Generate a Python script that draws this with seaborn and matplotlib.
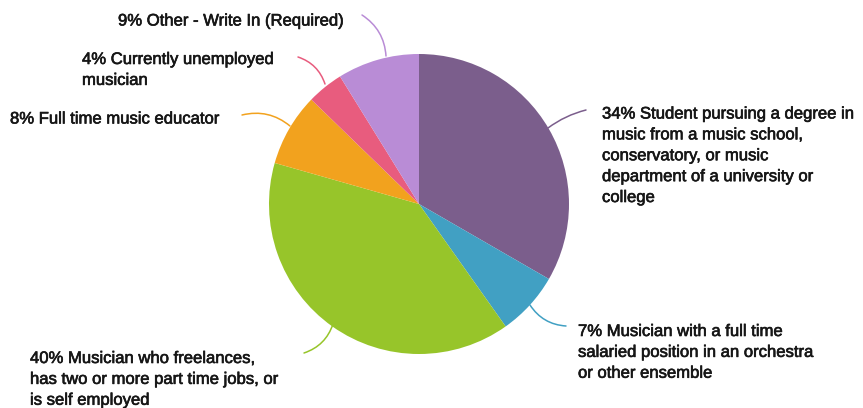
import matplotlib
matplotlib.use("Agg")
import matplotlib.pyplot as plt
import matplotlib.patheffects as pe
import seaborn as sns

sns.set_theme(style="white")
plt.rcParams["font.family"] = ["Liberation Sans", "DejaVu Sans"]

# Survey responses, clockwise from 12 o'clock
categories = [
    "Student pursuing a degree in\nmusic from a music school,\nconservatory, or music\ndepartment of a university or\ncollege",
    "Musician with a full time\nsalaried position in an orchestra\nor other ensemble",
    "Musician who freelances,\nhas two or more part time jobs, or\nis self employed",
    "Full time music educator",
    "Currently unemployed\nmusician",
    "Other - Write In (Required)",
]
percentages = [34, 7, 40, 8, 4, 9]
colors = ["#7B5E8C", "#41A0C3", "#97C52A", "#F2A21E", "#E85C7E", "#B98CD6"]

W, H = 863, 408
CX, CY, R = 419, 204, 150


def to_data(x, y):
    return (x - CX) / R, (CY - y) / R


fig = plt.figure(figsize=(W / 100, H / 100), dpi=100)
ax = fig.add_axes([0, 0, 1, 1])
ax.pie(percentages, colors=sns.color_palette(colors), startangle=90,
       counterclock=False, radius=1, center=(0, 0),
       wedgeprops=dict(linewidth=0))
ax.set_xlim(-CX / R, (W - CX) / R)
ax.set_ylim(-(H - CY) / R, CY / R)
ax.set_aspect("equal")
ax.axis("off")

# label anchor (left x, top y), leader start, leader end, curvature
layout = [
    ((602, 106.5), (586, 110), (548, 128), 0.1),
    ((578, 324), (566, 326), (530, 305), -0.25),
    ((30, 351), (304, 353), (333, 324), 0.25),
    ((10, 111.5), (242, 115), (290, 126), -0.25),
    ((82, 52), (298, 57), (325, 84), -0.25),
    ((118, 13.5), (362, 15), (386, 56), -0.25),
]

bolder = [pe.withStroke(linewidth=0.45, foreground="#161616")]

for cat, pct, col, (tpos, lstart, lend, rad) in zip(categories, percentages, colors, layout):
    tx, ty = to_data(*tpos)
    ax.text(tx, ty, f"{pct}% {cat}", ha="left", va="top", fontsize=12,
            color="#161616", linespacing=1.49, path_effects=bolder)
    ax.annotate("", xy=to_data(*lend), xytext=to_data(*lstart),
                arrowprops=dict(arrowstyle="-", color=col, lw=1.1,
                                connectionstyle=f"arc3,rad={rad}",
                                shrinkA=0, shrinkB=0))

fig.savefig("out.png", dpi=100)
